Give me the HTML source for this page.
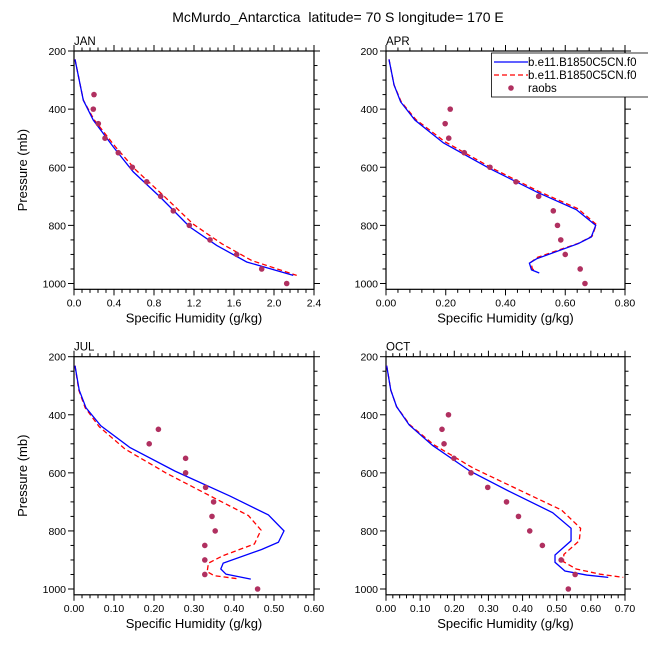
<!DOCTYPE html>
<html><head><meta charset="utf-8"><style>
html,body{margin:0;padding:0;background:#fff;}
svg{display:block;font-family:"Liberation Sans",Arial,sans-serif;}
</style></head><body>
<svg id="chart" width="648" height="649" viewBox="0 0 648 649" xmlns="http://www.w3.org/2000/svg">
<text x="338" y="22" font-size="14" text-anchor="middle" style="white-space:pre">McMurdo_Antarctica  latitude= 70 S longitude= 170 E</text>
</svg>
<script>
// ---- data ----
const rawPressures = [350,400,450,500,550,600,650,700,750,800,850,900,950,1000];
const aprRawPressures = [400,450,500,550,600,650,700,750,800,850,900,950,1000];
const janBlueQ = [0.01,0.093,0.193,0.393,0.593,0.86,1.16,1.427,1.727,2.193];
const janBlueP = [229,369,438,530,616,702,806,869,926,972];
const janRedQ = [0.01,0.093,0.2,0.41,0.62,0.893,1.193,1.477,1.777,2.227];
const janRedP = [229,369,436,528,610,697,796,863,921,972];
const janRaobs = [0.2,0.193,0.243,0.31,0.443,0.583,0.727,0.867,0.993,1.153,1.36,1.627,1.877,2.127];

const aprBlueQ = [0.01,0.027,0.049,0.097,0.192,0.348,0.504,0.637,0.702,0.687,0.643,0.504,0.48,0.487,0.513];
const aprBlueP = [229,317,375,438,516,605,685,746,800,840,863,915,930,953,964];
const aprRedQ = [0.01,0.027,0.051,0.1,0.197,0.353,0.509,0.643,0.704,0.69,0.646,0.507,0.485,0.49,0.504];
const aprRedP = [229,317,375,436,512,602,682,743,797,837,861,910,927,950,957];
const aprRaobs = [0.215,0.198,0.21,0.262,0.348,0.435,0.511,0.56,0.574,0.585,0.6,0.65,0.666];

const julBlueQ = [0.0025,0.013,0.03,0.067,0.14,0.2525,0.39,0.486,0.525,0.511,0.469,0.373,0.367,0.38,0.442];
const julBlueP = [231,315,376,438,513,594,680,745,800,839,864,911,931,949,966];
const julRedQ = [0.0025,0.012,0.028,0.063,0.1275,0.232,0.3525,0.436,0.4675,0.451,0.373,0.336,0.333,0.35,0.411];
const julRedP = [231,315,376,441,518,602,688,747,797,845,885,911,940,954,965];
const julRaobs = [0.211,0.188,0.279,0.279,0.329,0.349,0.345,0.353,0.327,0.327,0.327,0.459];
const julRawPressures = [450,500,550,600,650,700,750,800,850,900,950,1000];

const octBlueQ = [0.002,0.014,0.031,0.068,0.137,0.246,0.363,0.488,0.542,0.542,0.495,0.495,0.524,0.588,0.651];
const octBlueP = [231,315,372,435,506,594,665,737,791,834,883,908,938,952,960];
const octRedQ = [0.002,0.014,0.031,0.07,0.141,0.256,0.383,0.514,0.57,0.566,0.521,0.52,0.557,0.627,0.695];
const octRedP = [231,315,372,435,504,584,655,728,791,834,881,906,931,949,960];
const octRaobs = [0.183,0.164,0.17,0.199,0.249,0.298,0.353,0.388,0.421,0.458,0.513,0.554,0.534];

const janTicks = ["0.0","0.4","0.8","1.2","1.6","2.0","2.4"];
const aprTicks = ["0.00","0.20","0.40","0.60","0.80"];
const julTicks = ["0.00","0.10","0.20","0.30","0.40","0.50","0.60"];
const octTicks = ["0.00","0.10","0.20","0.30","0.40","0.50","0.60","0.70"];
const yTicks = [200,400,600,800,1000];

const NS="http://www.w3.org/2000/svg";
const svg=document.getElementById('chart');
function mk(tag,attrs,parent){const e=document.createElementNS(NS,tag);for(const k in attrs)e.setAttribute(k,attrs[k]);(parent||svg).appendChild(e);return e;}

function panel(o){
  const g=mk('g',{});
  
  
  const xs=q=>o.x0+(q-o.xmin)/(o.xmax-o.xmin)*(o.x1-o.x0);
  const ys=p=>o.ytop+(p-200)/800*(o.y1000-o.ytop);
  const bottom=o.ytop+(o.y1000-o.ytop)*820/800;
  const tg=mk('g',{stroke:'#000','stroke-width':1},g);
  
  
  const nMaj=o.ticks.length-1, step=(o.xmax-o.xmin)/nMaj;
  for(let i=0;i<=nMaj*5;i++){
    const q=o.xmin+i*step/5, X=xs(q), L=(i%5==0)?6:3.5;
    mk('line',{x1:X,x2:X,y1:bottom,y2:bottom+L},tg);
    mk('line',{x1:X,x2:X,y1:o.ytop,y2:o.ytop-L},tg);
  }
  for(let p=200;p<=1000;p+=50){
    const Y=ys(p), L=(p%200==0)?6:3.5;
    mk('line',{x1:o.x0,x2:o.x0-L,y1:Y,y2:Y},tg);
    mk('line',{x1:o.x1,x2:o.x1+L,y1:Y,y2:Y},tg);
  }
  o.ticks.forEach((t,i)=>{
    const tx=mk('text',{x:xs(o.xmin+i*step),y:bottom+17,'font-size':10.5,'text-anchor':'middle'},g);
    
    
    tx.textContent=t;
  });
  yTicks.forEach(p=>{
    const tx=mk('text',{x:o.x0-8,y:ys(p)+4,'font-size':10.5,'text-anchor':'end'},g);
    
    
    tx.textContent=p;
  });
  const fr=mk('rect',{x:o.x0,y:o.ytop,width:o.x1-o.x0,height:bottom-o.ytop,fill:'none',stroke:'#000','stroke-width':1.2},g);
  
  
  const lab=mk('text',{x:o.x0,y:o.ytop-6,'font-size':11.5},g);
  
  
  lab.textContent=o.label;
  const xt=mk('text',{x:(o.x0+o.x1)/2,y:bottom+33,'font-size':13,'text-anchor':'middle'},g);
  
  
  xt.textContent='Specific Humidity (g/kg)';
  if(o.ytitle){
    const cy=(o.ytop+bottom)/2;
    const yt=mk('text',{x:27,y:cy,'font-size':13,'text-anchor':'middle',transform:`rotate(-90 27 ${cy})`},g);
    
    
    yt.textContent='Pressure (mb)';
  }
  const red=mk('polyline',{points:o.rq.map((q,i)=>xs(q)+','+ys(o.rp[i])).join(' '),fill:'none',stroke:'#ff0000','stroke-width':1.3,'stroke-dasharray':'5,3'},g);
  
  
  const blue=mk('polyline',{points:o.bq.map((q,i)=>xs(q)+','+ys(o.bp[i])).join(' '),fill:'none',stroke:'#0000ff','stroke-width':1.3},g);
  
  
  o.obs.forEach((q,i)=>{
    const c=mk('circle',{cx:xs(q),cy:ys(o.obsP[i]),r:2.8,fill:'#b03060'},g);
    
    
  });
}
panel({key:'jan',label:'JAN',x0:74,x1:314,ytop:51,y1000:283.5,xmin:0,xmax:2.4,ticks:janTicks,bq:janBlueQ,bp:janBlueP,rq:janRedQ,rp:janRedP,obs:janRaobs,obsP:rawPressures,ytitle:true});
panel({key:'apr',label:'APR',x0:386,x1:625,ytop:51,y1000:283.5,xmin:0,xmax:0.8,ticks:aprTicks,bq:aprBlueQ,bp:aprBlueP,rq:aprRedQ,rp:aprRedP,obs:aprRaobs,obsP:aprRawPressures});
panel({key:'jul',label:'JUL',x0:74,x1:314,ytop:356.7,y1000:589,xmin:0,xmax:0.6,ticks:julTicks,bq:julBlueQ,bp:julBlueP,rq:julRedQ,rp:julRedP,obs:julRaobs,obsP:julRawPressures,ytitle:true});
panel({key:'oct',label:'OCT',x0:386,x1:625,ytop:356.7,y1000:589,xmin:0,xmax:0.7,ticks:octTicks,bq:octBlueQ,bp:octBlueP,rq:octRedQ,rp:octRedP,obs:octRaobs,obsP:aprRawPressures});

const lg=mk('g',{});


mk('rect',{x:491.5,y:53,width:170,height:44,fill:'#fff',stroke:'#000','stroke-width':0.8},lg);
mk('line',{x1:494,x2:528,y1:62,y2:62,stroke:'#0000ff','stroke-width':1.3},lg);
mk('line',{x1:494,x2:528,y1:75,y2:75,stroke:'#ff0000','stroke-width':1.3,'stroke-dasharray':'5,3'},lg);
mk('circle',{cx:511,cy:88,r:2.8,fill:'#b03060'},lg);
[['b.e11.B1850C5CN.f0',66,'legend-entry-blue'],['b.e11.B1850C5CN.f0',79,'legend-entry-red'],['raobs',92,'legend-entry-raobs']].forEach(d=>{
  const t=mk('text',{x:528,y:d[1],'font-size':11.5},lg);
  
  
  t.textContent=d[0];
});
</script>
</body></html>
